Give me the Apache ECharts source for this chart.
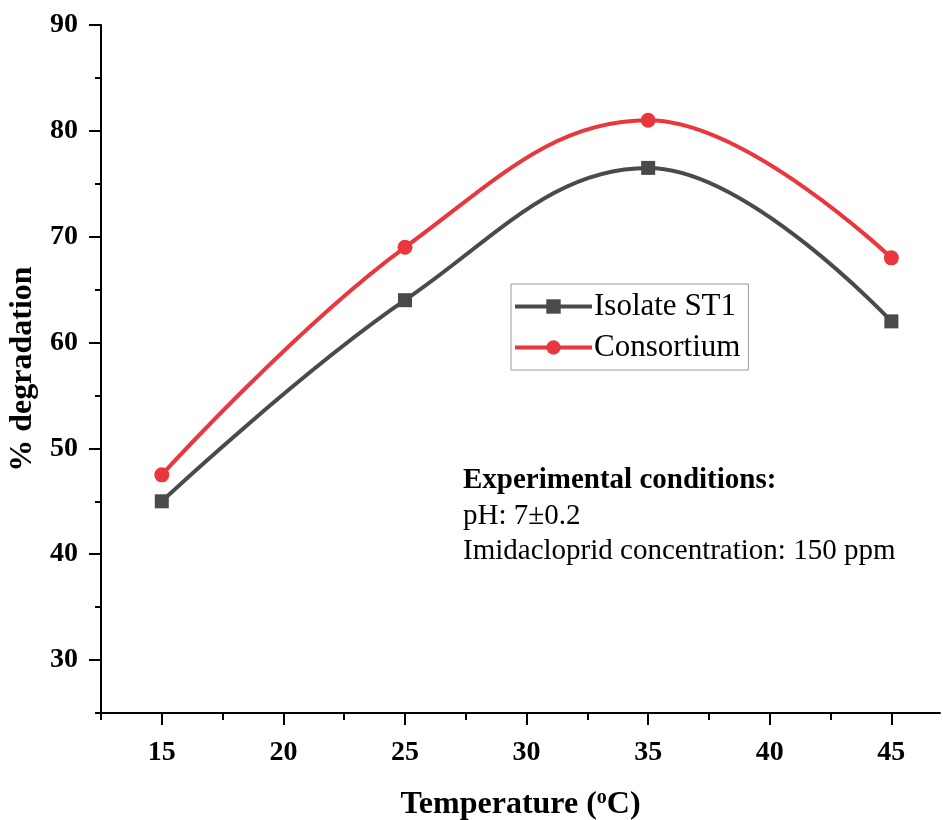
<!DOCTYPE html>
<html><head><meta charset="utf-8">
<script src="https://cdn.jsdelivr.net/npm/echarts@6/dist/echarts.min.js"></script>
<style>html,body{margin:0;padding:0;background:#fff}#c{width:943px;height:820px}</style>
</head><body><div id="c"></div>
<script>
const temperatures = [15, 25, 35, 45];
const isolateST1 = [45, 64, 76.5, 62];
const consortium = [47.5, 69, 81, 68];
const seriesNames = ['Isolate ST1', 'Consortium'];
const xMajorTicks = [15, 20, 25, 30, 35, 40, 45];
const xMinorTicks = [12.5, 17.5, 22.5, 27.5, 32.5, 37.5, 42.5];
const yMajorTicks = [30, 40, 50, 60, 70, 80, 90];
const yMinorTicks = [25, 35, 45, 55, 65, 75, 85];
const noteLines = ['Experimental conditions:', 'pH: 7\u00b10.2', 'Imidacloprid concentration: 150 ppm'];

const FONT = '"Liberation Serif", "Times New Roman", serif';
const chart = echarts.init(document.getElementById('c'));
const xRange = {min: 12.5, max: 47};
const yRange = {min: 25, max: 90};
const axisLineStyle = {show: true, lineStyle: {color: '#000', width: 2}};

chart.setOption({
  animation: false,
  backgroundColor: '#fff',
  grid: {left: 101, top: 25, width: 839, height: 688, containLabel: false, outerBoundsMode: 'none'},
  legend: {
    data: seriesNames,
    orient: 'vertical',
    left: 511, top: 284,
    itemWidth: 77, itemHeight: 18, itemGap: 10,
    padding: [7, 8, 7, 2],
    borderColor: '#999', borderWidth: 1,
    lineStyle: {width: 4},
    textStyle: {fontFamily: FONT, fontSize: 31, color: '#000', padding: [0, 0, 0, -3]}
  },
  xAxis: [{
    type: 'value', ...xRange,
    position: 'bottom',
    name: 'Temperature ({sup|o}C)',
    nameLocation: 'middle', nameGap: 75,
    nameTextStyle: {fontFamily: FONT, fontSize: 32, fontWeight: 'bold', color: '#000',
      rich: {sup: {fontFamily: FONT, fontSize: 20, fontWeight: 'bold', color: '#000', verticalAlign: 'top', padding: [0, 0, 14, 0]}}},
    axisLine: axisLineStyle,
    axisTick: {show: true, inside: false, length: 12, lineStyle: {color: '#000', width: 2}, customValues: xMajorTicks},
    axisLabel: {show: true, margin: 26, fontFamily: FONT, fontSize: 28, fontWeight: 'bold', color: '#000', customValues: xMajorTicks},
    splitLine: {show: false}
  }, {
    type: 'value', ...xRange,
    position: 'bottom',
    axisLine: {show: false},
    axisTick: {show: true, inside: false, length: 7, lineStyle: {color: '#000', width: 2}, customValues: xMinorTicks},
    axisLabel: {show: false, customValues: xMinorTicks},
    splitLine: {show: false}
  }],
  yAxis: [{
    type: 'value', ...yRange,
    position: 'left',
    name: '% degradation',
    nameLocation: 'middle', nameGap: 60,
    nameTextStyle: {fontFamily: FONT, fontSize: 32, fontWeight: 'bold', color: '#000'},
    axisLine: axisLineStyle,
    axisTick: {show: true, inside: false, length: 12, lineStyle: {color: '#000', width: 2}, customValues: yMajorTicks},
    axisLabel: {show: true, margin: 23, fontFamily: FONT, fontSize: 28, fontWeight: 'bold', color: '#000', customValues: yMajorTicks},
    splitLine: {show: false}
  }, {
    type: 'value', ...yRange,
    position: 'left',
    axisLine: {show: false},
    axisTick: {show: true, inside: false, length: 6, lineStyle: {color: '#000', width: 2}, customValues: yMinorTicks},
    axisLabel: {show: false, customValues: yMinorTicks},
    splitLine: {show: false}
  }],
  series: [{
    name: seriesNames[0], type: 'line', smooth: 0.4,
    data: temperatures.map((t, i) => [t, isolateST1[i]]),
    symbol: 'rect', symbolSize: 14,
    lineStyle: {color: '#4a4a4a', width: 4},
    itemStyle: {color: '#4a4a4a'},
    z: 3
  }, {
    name: seriesNames[1], type: 'line', smooth: 0.4,
    data: temperatures.map((t, i) => [t, consortium[i]]),
    symbol: 'circle', symbolSize: 15,
    lineStyle: {color: '#e8383d', width: 4},
    itemStyle: {color: '#e8383d'},
    z: 4
  }],
  graphic: [{
    type: 'text', left: 463, top: 466,
    style: {text: noteLines[0], font: 'bold 29px ' + FONT, fill: '#000'}
  }, {
    type: 'text', left: 463, top: 502,
    style: {text: noteLines[1], font: '29px ' + FONT, fill: '#000'}
  }, {
    type: 'text', left: 463, top: 537,
    style: {text: noteLines[2], font: '29px ' + FONT, fill: '#000'}
  }]
});
</script>
</body></html>
